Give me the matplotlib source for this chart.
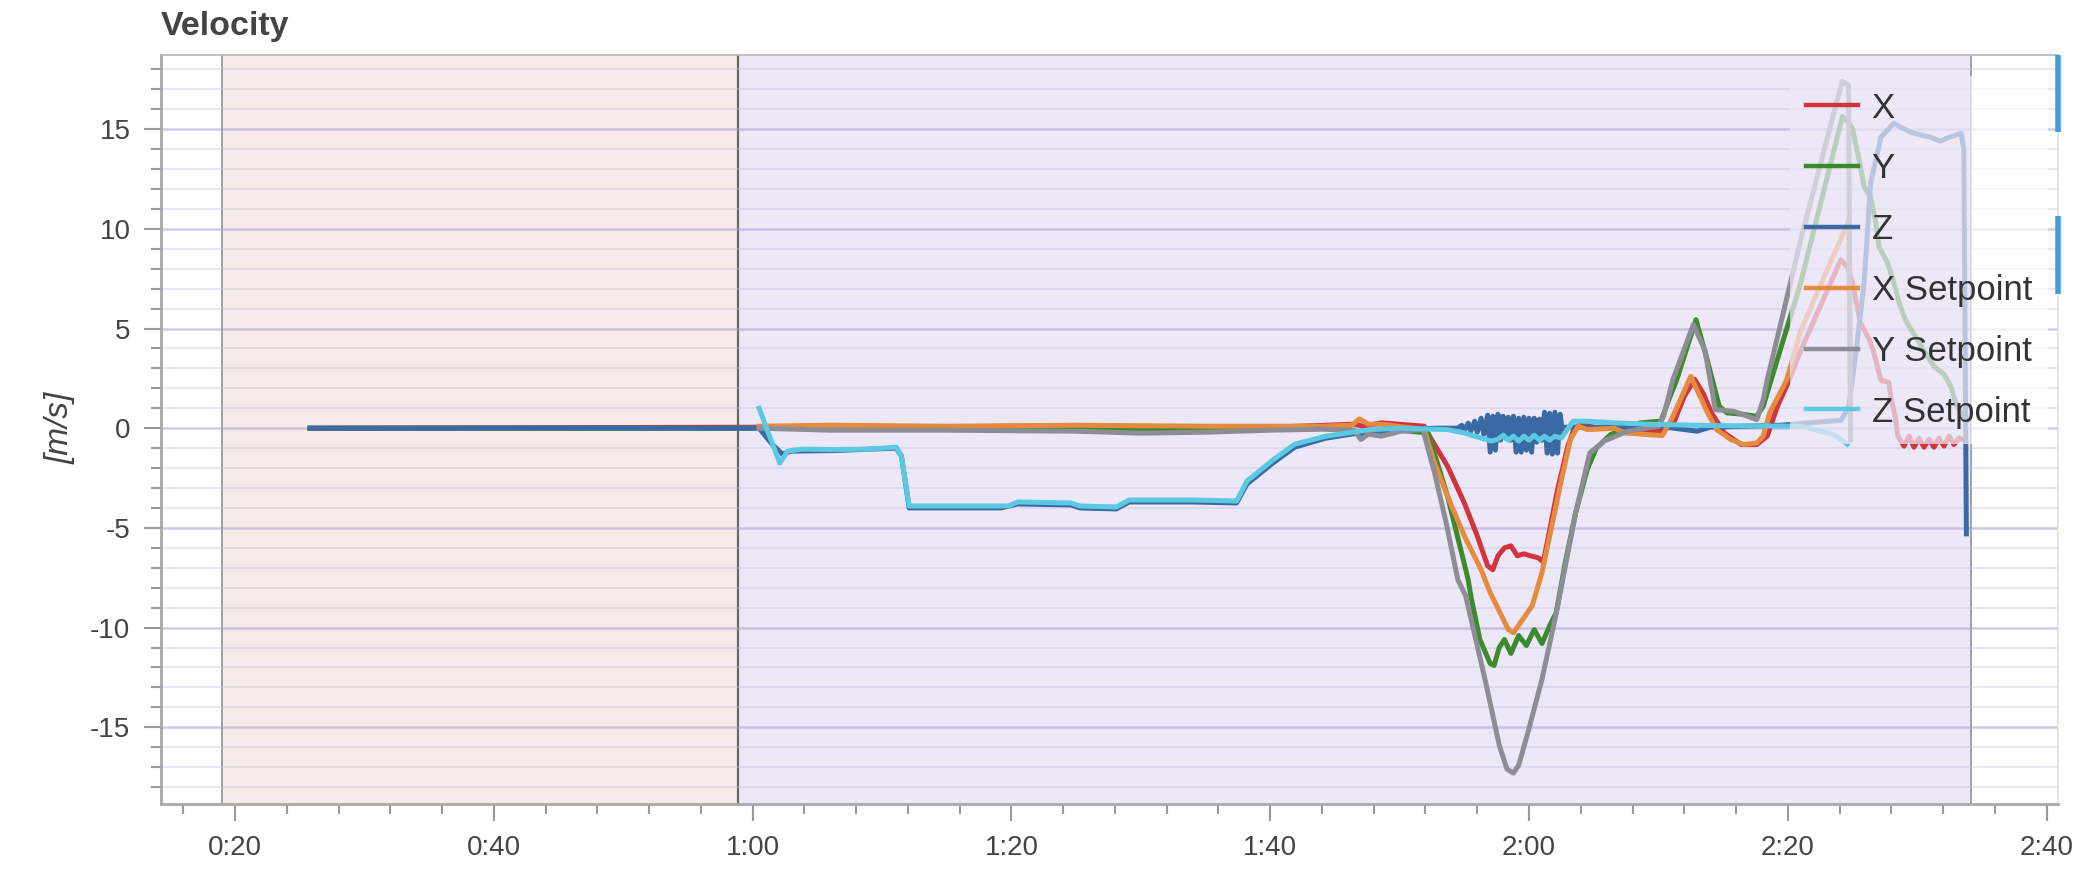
import matplotlib.pyplot as plt
import matplotlib.ticker as mticker
import matplotlib.transforms as mtransforms
from matplotlib.patches import Rectangle

plt.rcParams['font.family'] = ['Liberation Sans', 'DejaVu Sans']
plt.rcParams['axes.unicode_minus'] = False

# flight mode regions (seconds)
mode_edges = [18.96, 58.84, 154.19]
mode_colors = ['#f6e9e7', '#ece8f7']

# X
x_t = [25.8, 60.5, 66.0, 72.0, 80.0, 90.0, 100.0, 106.5, 107.2, 108.6, 111.9, 112.4, 113.7, 115.0,
       116.0, 116.8, 117.2, 117.6, 118.1, 118.6, 119.1, 119.6, 120.1, 120.7, 121.1, 121.45, 122.2,
       123.0, 123.5, 124.0, 125.3, 126.6, 128.5, 130.4, 131.2, 132.0, 132.8, 133.5, 134.1, 135.1,
       136.4, 137.6, 138.4, 139.2, 140.1, 141.0, 144.1, 144.6, 145.0, 145.6, 146.3, 146.6, 147.2,
       147.8, 148.0, 148.3, 148.5, 148.98, 149.37, 149.75, 150.14, 150.53, 150.91, 151.30, 151.68,
       152.07, 152.46, 152.84, 153.23, 153.49]
x_v = [0.0, 0.05, 0.1, 0.05, 0.1, 0.05, 0.05, 0.2, 0.1, 0.27, 0.1, -0.5, -1.9, -3.75,
       -5.4, -6.9, -7.1, -6.4, -6.0, -5.9, -6.4, -6.3, -6.4, -6.5, -6.7, -5.6, -3.1,
       -0.9, 0.0, 0.2, 0.0, 0.1, -0.1, -0.15, 0.3, 1.6, 2.45, 1.7, 0.77, -0.24,
       -0.82, -0.82, -0.4, 1.1, 2.4, 3.9, 8.45, 8.1, 7.3, 5.3, 4.45, 3.9, 2.4,
       2.3, 1.43, 0.6, -0.4, -0.9, -0.4, -0.95, -0.5, -0.95, -0.55, -0.95, -0.5,
       -0.9, -0.4, -0.82, -0.49, -0.57]

# Y
y_t = [25.8, 60.5, 70.0, 80.0, 90.0, 100.0, 106.0, 107.0, 108.0, 108.6, 110.0, 112.2, 113.7,
       115.3, 115.5, 116.2, 117.0, 117.3, 117.7, 118.1, 118.6, 119.2, 119.8, 120.4, 121.0, 121.6,
       122.1, 122.8, 123.6, 124.5, 125.2, 126.3, 128.6, 130.2, 130.8, 131.4, 132.9, 133.7, 134.7,
       135.3, 136.5, 137.6, 138.1, 138.7, 141.0, 144.22, 144.6, 144.99, 145.5, 145.9, 146.4,
       146.8, 147.05, 147.7, 148.2, 148.6, 148.98, 149.37, 150.0, 150.8, 151.3, 152.07, 152.6,
       152.97, 153.5]
y_v = [0.0, 0.0, -0.05, 0.0, -0.05, 0.0, 0.0, -0.4, -0.2, -0.3, -0.1, -0.24, -3.4,
       -7.6, -8.4, -10.6, -11.8, -11.9, -11.0, -10.6, -11.3, -10.4, -10.9, -10.1, -10.8, -9.9,
       -9.26, -6.75, -4.25, -2.07, -1.0, -0.32, 0.27, 0.35, 1.43, 2.4, 5.44, 3.6, 1.1,
       0.77, 0.7, 0.6, 1.1, 2.4, 7.3, 15.63, 15.4, 15.05, 13.5, 12.1, 11.6,
       10.3, 9.1, 8.3, 7.3, 6.3, 5.6, 5.1, 4.45, 3.6, 3.1, 2.7, 2.1,
       1.27, 0.6]

# Z
z_t = [25.8, 60.5, 61.5, 62.3, 63.0, 66.3, 71.1, 71.5, 72.1, 79.2, 80.5, 84.6, 85.3, 88.1, 89.1,
       94.0, 97.4, 98.2, 100.2, 101.9, 104.3, 107.7, 110.1, 113.0, 114.5,
       114.8, 115.0, 115.3, 115.5, 115.8, 116.0, 116.3, 116.5, 116.8, 117.0, 117.2, 117.4, 117.6,
       117.8, 118.0, 118.2, 118.4, 118.6, 118.8, 119.0, 119.2, 119.4, 119.6, 119.8, 120.0, 120.2,
       120.4, 120.6, 120.8, 121.0, 121.2, 121.4, 121.6, 121.8, 122.0, 122.2, 122.4, 122.6, 122.8,
       125.0, 130.0, 133.0, 134.0, 139.5, 144.1, 144.7, 145.3, 145.9, 146.4, 147.2, 148.2, 148.7,
       149.7, 151.0, 151.8, 152.3, 153.4, 153.6, 153.8]
z_v = [0.0, 0.0, -0.8, -1.3, -1.15, -1.12, -1.0, -1.4, -4.0, -4.0, -3.8, -3.85, -4.0, -4.05, -3.7,
       -3.7, -3.75, -2.8, -1.75, -0.95, -0.5, -0.15, -0.05, 0.0, 0.0,
       0.15, -0.1, 0.25, -0.15, 0.35, -0.2, 0.5, -0.3, 0.65, -1.2, 0.6, -1.1, 0.7,
       -0.6, 0.6, -0.5, 0.55, -0.6, 0.6, -1.2, 0.5, -1.2, 0.55, -1.1, 0.5, -1.2,
       0.5, -0.7, 0.45, -0.6, 0.8, -1.25, 0.75, -1.3, 0.8, -1.25, 0.7, -0.2, 0.05,
       0.05, 0.1, -0.15, 0.05, 0.15, 0.4, 1.0, 4.0, 7.3, 12.3, 14.6, 15.3, 15.1,
       14.8, 14.6, 14.4, 14.55, 14.8, 14.0, -5.3]

# X Setpoint
xs_t = [60.5, 66.0, 75.0, 85.0, 95.0, 104.0, 106.3, 106.9, 107.6, 108.6, 111.9, 112.7, 113.7,
        115.0, 116.3, 117.0, 118.4, 118.8, 119.5, 120.25, 121.0, 121.7, 122.5, 123.2, 123.8,
        124.5, 126.6, 127.4, 130.3, 131.0, 132.5, 133.8, 134.5, 135.6, 136.6, 137.6, 138.1,
        138.6, 139.9, 141.0, 144.7, 144.85]
xs_v = [0.1, 0.15, 0.1, 0.15, 0.1, 0.1, 0.15, 0.47, 0.2, 0.2, -0.07, -1.74, -3.4,
        -5.4, -7.1, -8.25, -10.1, -10.26, -9.6, -8.9, -7.25, -5.1, -2.6, -0.57, 0.1,
        -0.07, 0.0, -0.24, -0.37, 0.43, 2.6, 0.77, -0.07, -0.57, -0.82, -0.74, -0.4,
        0.77, 2.4, 4.9, 10.4, 0.0]

# Y Setpoint
ys_t = [60.5, 66.0, 75.0, 85.0, 90.0, 95.0, 100.0, 104.0, 106.5, 107.0, 107.6, 108.6, 110.1,
        111.8, 112.7, 113.6, 114.5, 115.1, 116.6, 117.7, 118.3, 118.8, 119.2, 119.9, 121.0,
        122.1, 123.6, 124.7, 125.8, 127.6, 130.0, 130.4, 131.1, 132.7, 133.6, 134.4, 135.8,
        137.6, 138.1, 138.4, 141.0, 144.2, 144.7, 144.85]
ys_v = [0.0, -0.1, -0.1, -0.15, -0.25, -0.2, -0.1, -0.05, -0.1, -0.57, -0.3, -0.4, -0.15,
        -0.07, -2.24, -4.75, -7.6, -8.4, -12.6, -15.9, -17.1, -17.3, -16.9, -15.3, -12.6,
        -9.3, -4.25, -1.24, -0.65, -0.15, 0.1, 0.6, 2.4, 5.2, 3.9, 0.93, 0.85,
        0.43, 1.43, 2.4, 9.45, 17.4, 17.2, -0.6]

# Z Setpoint
zs_t = [60.5, 62.1, 62.7, 63.8, 66.3, 68.9, 71.1, 71.5, 72.1, 74.0, 79.8, 80.5, 84.6, 85.3,
        88.1, 89.1, 94.0, 97.4, 98.2, 100.2, 101.9, 104.3, 107.7, 110.1, 113.7, 115.0, 117.1,
        117.6, 118.0, 118.4, 118.8, 119.2, 119.6, 120.0, 120.4, 120.8, 121.2, 121.6, 122.0,
        122.5, 123.4, 124.5, 126.6, 129.2, 134.3, 141.0, 143.5, 144.6]
zs_v = [1.0, -1.75, -1.15, -1.05, -1.07, -1.05, -0.95, -1.4, -3.9, -3.9, -3.9, -3.7, -3.75, -3.9,
        -3.95, -3.6, -3.6, -3.65, -2.65, -1.6, -0.8, -0.4, -0.07, 0.0, -0.07, -0.24, -0.65,
        -0.55, -0.35, -0.6, -0.4, -0.65, -0.4, -0.6, -0.35, -0.6, -0.4, -0.6, -0.4,
        -0.5, 0.35, 0.35, 0.27, 0.2, 0.13, 0.1, -0.3, -0.8]

series = [
    ("X", x_t, x_v, '#d2343e'),
    ("Y", y_t, y_v, '#3d8a2c'),
    ("Z", z_t, z_v, '#3a6aa3'),
    ("X Setpoint", xs_t, xs_v, '#e58b3f'),
    ("Y Setpoint", ys_t, ys_v, '#8d8d96'),
    ("Z Setpoint", zs_t, zs_v, '#5bc9e1'),
]

# scroll markers on the right edge
marker_spans = [(18.72, 14.85), (10.63, 6.72)]

fig = plt.figure(figsize=(21, 8.86), dpi=100)
ax = fig.add_axes([161 / 2100, 82 / 886, 1897 / 2100, 749 / 886])

ax.axvspan(mode_edges[0], mode_edges[1], color=mode_colors[0], zorder=0, lw=0)
ax.axvspan(mode_edges[1], mode_edges[2], color=mode_colors[1], zorder=0, lw=0)
ax.axvline(mode_edges[0], color='#9a9a9a', lw=1.3, zorder=1)
ax.axvline(mode_edges[1], color='#6a6a6a', lw=1.6, zorder=1)
ax.axvline(mode_edges[2], color='#9a9a9a', lw=1.3, zorder=1)

for name, t, v, c in series:
    ax.plot(t, v, color=c, lw=3.6, label=name, solid_joinstyle='round')

ax.set_xlim(14.28, 160.88)
ax.set_ylim(-18.85, 18.72)

ax.xaxis.set_major_locator(mticker.MultipleLocator(20))
ax.xaxis.set_minor_locator(mticker.MultipleLocator(4))
ax.xaxis.set_major_formatter(mticker.FuncFormatter(lambda s, p: f"{int(s) // 60}:{int(s) % 60:02d}"))
ax.yaxis.set_major_locator(mticker.MultipleLocator(5))
ax.yaxis.set_minor_locator(mticker.MultipleLocator(1))

ax.grid(axis='y', which='major', color='#a99fd2', alpha=0.55, lw=1.8)
ax.grid(axis='y', which='minor', color='#c5c0e2', alpha=0.4, lw=1.4)
ax.grid(axis='x', visible=False)

ax.tick_params(which='major', length=12, width=1.5, color='#9a9a9a', labelsize=20,
               labelcolor='#444444', pad=10)
ax.tick_params(which='minor', length=7, width=1.5, color='#9a9a9a')

for side in ['left', 'bottom']:
    ax.spines[side].set_color('#a8a8a8')
    ax.spines[side].set_linewidth(2)
ax.spines['top'].set_color('#b5b5b5')
ax.spines['top'].set_linewidth(1.2)
ax.spines['right'].set_color('#e2e2e2')
ax.spines['right'].set_linewidth(1.2)

trans = mtransforms.blended_transform_factory(ax.transAxes, ax.transData)
for top, bottom in marker_spans:
    ax.plot([1.0, 1.0], [top, bottom], transform=trans, color='#3f9edc', lw=4,
            clip_on=False, solid_capstyle='butt', zorder=6)

fig.text(161 / 2100, 1 - 35 / 886, "Velocity", fontsize=24.5, fontweight='bold',
         color='#444444', ha='left', va='baseline')
fig.text(60 / 2100, 1 - 428 / 886, "[m/s]", rotation=90, style='italic', fontsize=24,
         color='#444444', ha='center', va='center')

leg = ax.legend(loc='upper left', bbox_to_anchor=(1790 / 2100, 1 - 76 / 886),
                bbox_transform=fig.transFigure, fontsize=25, frameon=False,
                handlelength=1.5, handletextpad=0.4, labelspacing=0.8, borderpad=0.45,
                borderaxespad=0, labelcolor='#333333')
leg.set_zorder(7)
for line in leg.get_lines():
    line.set_linewidth(3.2)

# translucent backing behind the legend, tinted like the region below it
fig.canvas.draw()
bb = leg.get_window_extent().transformed(ax.transData.inverted())
ax.add_patch(Rectangle((bb.x0, bb.y0), mode_edges[2] - bb.x0, bb.height,
                       facecolor=mode_colors[1], alpha=0.72, lw=0, zorder=5))
ax.add_patch(Rectangle((mode_edges[2], bb.y0), bb.x1 - mode_edges[2], bb.height,
                       facecolor='white', alpha=0.72, lw=0, zorder=5))

fig.savefig("out.png", dpi=100)
